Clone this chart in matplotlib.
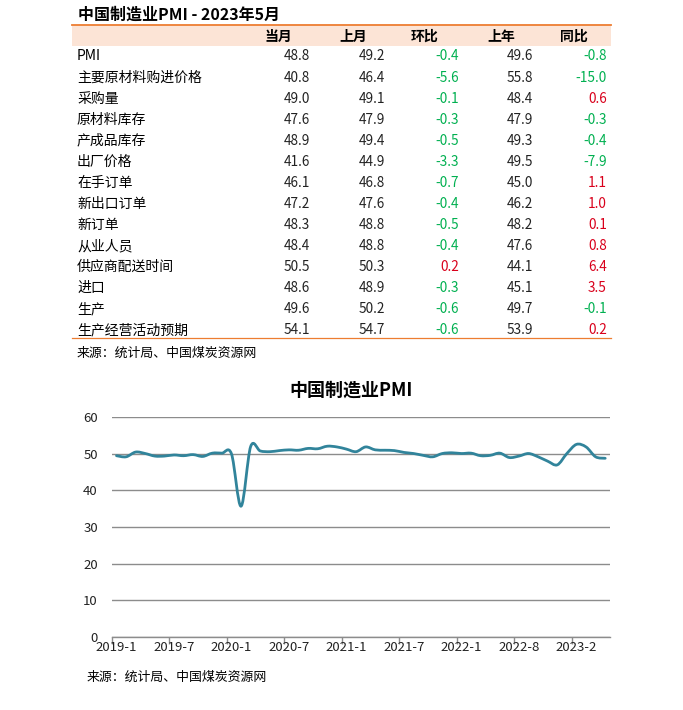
import matplotlib
matplotlib.use("Agg")
import matplotlib.pyplot as plt
from matplotlib.path import Path
from matplotlib.patches import PathPatch, Rectangle
from matplotlib.lines import Line2D

plt.rcParams["font.family"] = ["Noto Sans CJK SC", "DejaVu Sans"]

W, H = 683, 710

# table data
table_title = "中国制造业PMI - 2023年5月"
col_names = ["当月", "上月", "环比", "上年", "同比"]
row_names = ["PMI", "主要原材料购进价格", "采购量", "原材料库存", "产成品库存", "出厂价格",
             "在手订单", "新出口订单", "新订单", "从业人员", "供应商配送时间", "进口", "生产",
             "生产经营活动预期"]
cur_month = [48.8, 40.8, 49.0, 47.6, 48.9, 41.6, 46.1, 47.2, 48.3, 48.4, 50.5, 48.6, 49.6, 54.1]
prev_month = [49.2, 46.4, 49.1, 47.9, 49.4, 44.9, 46.8, 47.6, 48.8, 48.8, 50.3, 48.9, 50.2, 54.7]
mom = [-0.4, -5.6, -0.1, -0.3, -0.5, -3.3, -0.7, -0.4, -0.5, -0.4, 0.2, -0.3, -0.6, -0.6]
last_year = [49.6, 55.8, 48.4, 47.9, 49.3, 49.5, 45.0, 46.2, 48.2, 47.6, 44.1, 45.1, 49.7, 53.9]
yoy = [-0.8, -15.0, 0.6, -0.3, -0.4, -7.9, 1.1, 1.0, 0.1, 0.8, 6.4, 3.5, -0.1, 0.2]
source = "来源：统计局、中国煤炭资源网"

# PMI series (2022-4 not in the source series)
months = (["2019-%d" % m for m in range(1, 13)] + ["2020-%d" % m for m in range(1, 13)]
          + ["2021-%d" % m for m in range(1, 13)]
          + ["2022-1", "2022-2", "2022-3", "2022-5", "2022-6", "2022-7", "2022-8", "2022-9",
             "2022-10", "2022-11", "2022-12"]
          + ["2023-1", "2023-2", "2023-3", "2023-4", "2023-5"])
pmi = [49.5, 49.2, 50.5, 50.1, 49.4, 49.4, 49.7, 49.5, 49.8, 49.3, 50.2, 50.2,
       50.0, 35.7, 52.0, 50.8, 50.6, 50.9, 51.1, 51.0, 51.5, 51.4, 52.1, 51.9,
       51.3, 50.6, 51.9, 51.1, 51.0, 50.9, 50.4, 50.1, 49.6, 49.2, 50.1, 50.3,
       50.1, 50.2, 49.5, 49.6, 50.2, 49.0, 49.4, 50.1, 49.2, 48.0, 47.0,
       50.1, 52.6, 51.9, 49.2, 48.8]

GREEN = "#00B050"
RED = "#D9001B"
ORANGE = "#ED7D31"
LINE = "#31849B"

fig = plt.figure(figsize=(W / 100, H / 100), dpi=100)


def fy(y):
    return 1 - y / H


def fx(x):
    return x / W


# ---- table ----
fig.text(fx(78), fy(15), table_title, fontsize=11.5, fontweight="bold", va="center", ha="left")
fig.add_artist(Rectangle((fx(72), fy(46)), fx(611) - fx(72), fy(25) - fy(46),
                         transform=fig.transFigure, color="#FCE4D6", lw=0))
fig.add_artist(Line2D([fx(72), fx(611)], [fy(24.5), fy(24.5)], transform=fig.transFigure,
                      color=ORANGE, lw=1.3))
col_right = [310, 385, 459, 533, 607]
head_right = [292, 367, 438, 515, 588]
for name, xr in zip(col_names, head_right):
    fig.text(fx(xr), fy(37), name, fontsize=10, fontweight="bold", ha="right", va="center")

row_y0, row_dy = 56.5, 21.05
for i, name in enumerate(row_names):
    y = fy(row_y0 + i * row_dy)
    fig.text(fx(77), y, name, fontsize=10, ha="left", va="center")
    vals = [cur_month[i], prev_month[i], mom[i], last_year[i], yoy[i]]
    for j, (v, xr) in enumerate(zip(vals, col_right)):
        color = "#222222"
        if j in (2, 4):
            color = GREEN if v < 0 else RED
        fig.text(fx(xr), y, "%.1f" % v, fontsize=9.8, ha="right", va="center", color=color)

fig.add_artist(Line2D([fx(72), fx(611)], [fy(338.5), fy(338.5)], transform=fig.transFigure,
                      color=ORANGE, lw=0.9))
fig.text(fx(77), fy(353), source, fontsize=9.3, ha="left", va="center")

# ---- chart ----
ax = fig.add_axes([fx(111.7), fy(636.8), fx(610) - fx(111.7), fy(417.3) - fy(636.8)])
n = len(pmi)
xs = list(range(n))

# smoothed line, cubic bezier through the points
verts = [(xs[0], pmi[0])]
codes = [Path.MOVETO]
for i in range(n - 1):
    p0 = (xs[i - 1], pmi[i - 1]) if i > 0 else (xs[i], pmi[i])
    p1 = (xs[i], pmi[i])
    p2 = (xs[i + 1], pmi[i + 1])
    p3 = (xs[i + 2], pmi[i + 2]) if i + 2 < n else p2
    c1 = (p1[0] + (p2[0] - p0[0]) / 6, p1[1] + (p2[1] - p0[1]) / 6)
    c2 = (p2[0] - (p3[0] - p1[0]) / 6, p2[1] - (p3[1] - p1[1]) / 6)
    verts += [c1, c2, p2]
    codes += [Path.CURVE4] * 3
ax.add_patch(PathPatch(Path(verts, codes), fill=False, edgecolor=LINE, lw=2.0,
                       capstyle="round", joinstyle="round", zorder=3))

ax.set_xlim(-0.5, n - 0.5)
ax.set_ylim(0, 60)
ax.set_yticks(range(0, 61, 10))
ax.yaxis.grid(True, color="#8c8c8c", lw=1.0)
ax.set_axisbelow(True)
for s in ("top", "right", "left"):
    ax.spines[s].set_visible(False)
ax.spines["bottom"].set_color("#8c8c8c")
ax.spines["bottom"].set_linewidth(1.0)
ax.tick_params(axis="y", length=0, labelsize=9.5, pad=10, labelcolor="#222222")

lab_idx = list(range(0, n, 6))
ax.set_xticks([i - 0.5 for i in lab_idx])
ax.set_xticklabels([])
ax.tick_params(axis="x", which="major", length=5, color="#8c8c8c", width=1.0)
ax.set_xticks(lab_idx, minor=True)
ax.set_xticklabels([months[i] for i in lab_idx], minor=True)
ax.tick_params(axis="x", which="minor", length=0, labelsize=9.5, pad=3, labelcolor="#222222")

fig.text(fx(351), fy(390), "中国制造业PMI", fontsize=13, fontweight="bold", ha="center", va="center")
fig.text(fx(87), fy(677), source, fontsize=9.3, ha="left", va="center")

fig.savefig("out.png", dpi=100)
